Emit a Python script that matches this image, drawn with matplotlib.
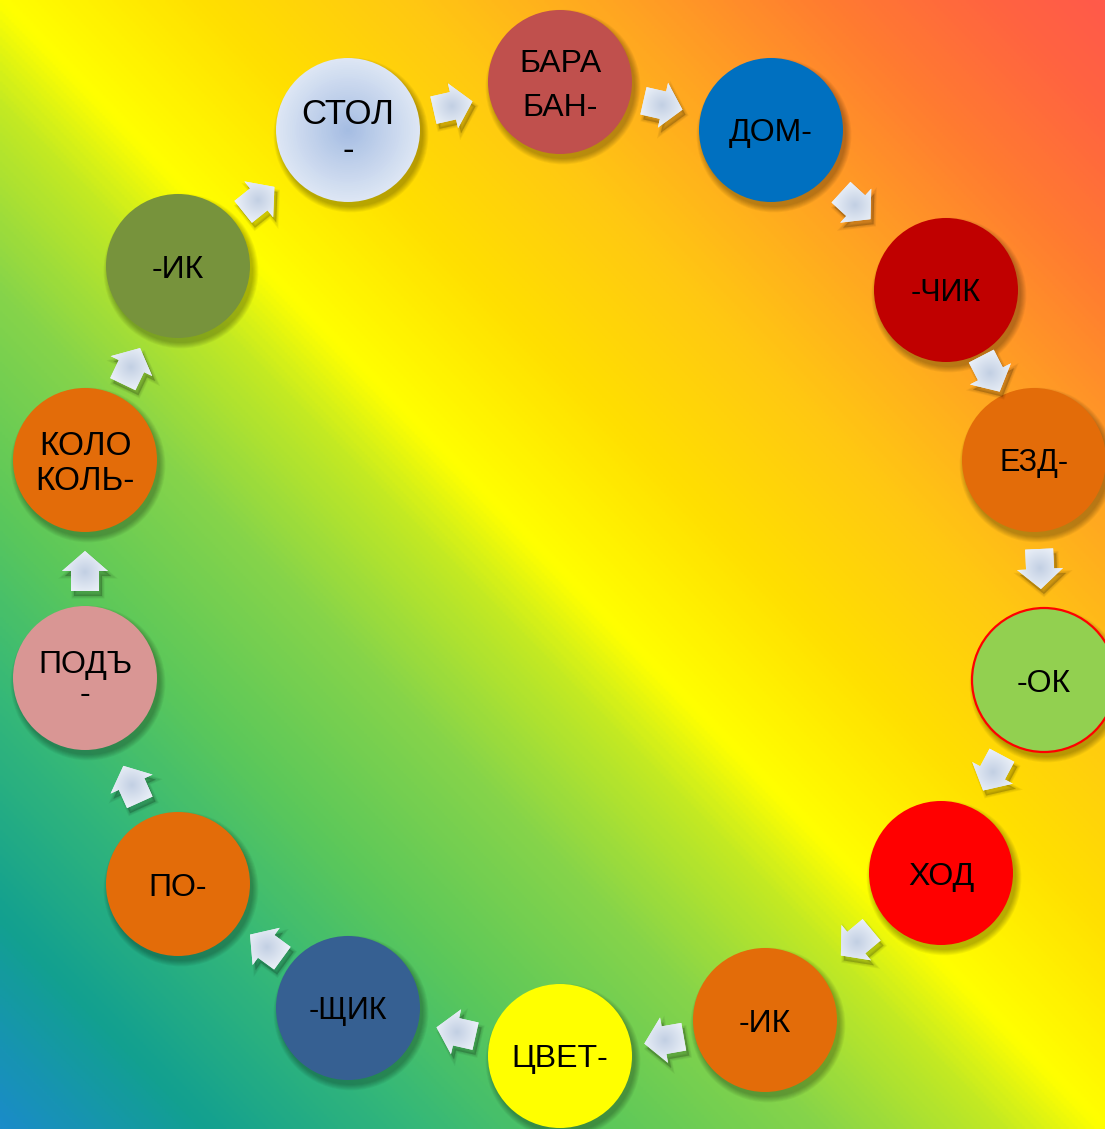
import numpy as np
import matplotlib.pyplot as plt
from matplotlib.colors import LinearSegmentedColormap, to_rgb
from matplotlib.patches import Circle, Polygon

W, H = 1105, 1129

# nodes, clockwise starting from the top one
labels = [["БАРА", "БАН-"], ["ДОМ-"], ["-ЧИК"], ["ЕЗД-"], ["-ОК"], ["ХОД"], ["-ИК"],
          ["ЦВЕТ-"], ["-ЩИК"], ["ПО-"], ["ПОДЪ", "-"], ["КОЛО", "КОЛЬ-"], ["-ИК"], ["СТОЛ", "-"]]
fills = ["#c0504d", "#0070c0", "#c00000", "#e36c09", "#92d050", "#ff0000", "#e36c09",
         "#ffff00", "#366092", "#e36c09", "#d99694", "#e36c09", "#77933c", "radial"]
edges = [None, None, None, None, "#ff0000", None, None,
         None, None, None, None, None, None, None]

# layout (pixel positions of node centres and of the arrows between them)
node_x = [560, 771, 946, 1034, 1044, 941, 765, 560, 348, 178, 85, 85, 178, 348]
node_y = [82, 130, 290, 460, 680, 873, 1020, 1056, 1008, 884, 678, 460, 266, 130]
arrow_x = [662, 855, 990, 1040, 993, 857, 665, 457, 267, 132, 85, 131, 258, 452]
arrow_y = [105, 205, 373, 568, 772, 942, 1040, 1032, 947, 785, 572, 367, 200, 106]
font_sizes = [23, 23, 22, 22, 23, 23, 23, 23, 22, 23, 23, 24, 23, 25]
line_dy = [[-22, 22], [0], [0], [0], [0], [0], [0],
           [0], [0], [0], [-16, 14], [-17, 18], [0], [-19, 17]]

# background gradient (u = x/W - y/H, from bottom-left -1 to top-right +1)
bg_stops = [(0.00, "#1a8cc8"), (0.09, "#12a090"), (0.19, "#35b878"), (0.275, "#5cc85a"),
            (0.37, "#86d44a"), (0.455, "#c4ea22"), (0.50, "#ffff00"), (0.59, "#ffe000"),
            (0.685, "#ffc812"), (0.78, "#ffa422"), (0.875, "#ff7c30"), (0.95, "#ff6440"),
            (1.00, "#ff5a4a")]
bg_cmap = LinearSegmentedColormap.from_list("bg", bg_stops)

fig = plt.figure(figsize=(W / 100, H / 100), dpi=100)
ax = fig.add_axes([0, 0, 1, 1])
ax.set_xlim(0, W)
ax.set_ylim(H, 0)
ax.axis("off")

xx, yy = np.meshgrid(np.linspace(0, 1, 400), np.linspace(0, 1, 400))
u = (xx - yy + 1) / 2
ax.imshow(u, cmap=bg_cmap, vmin=0, vmax=1, extent=(0, W, H, 0), zorder=0, aspect="auto")

r = 72
n = len(labels)

# circles
for i in range(n):
    x, y = node_x[i], node_y[i]
    for k in range(7):
        ax.add_patch(Circle((x + 3, y + 5), r + k * 0.9, color="black", alpha=0.045, lw=0, zorder=1))
    if fills[i] == "radial":
        c_in = np.array(to_rgb("#a4bce2"))
        c_out = np.array(to_rgb("#dde6f4"))
        for j in range(40):
            f = 1 - j / 40
            ax.add_patch(Circle((x, y), r * f, color=c_out * f + c_in * (1 - f), lw=0, zorder=2))
    else:
        ec = edges[i] if edges[i] else "none"
        ax.add_patch(Circle((x, y), r, facecolor=fills[i], edgecolor=ec, lw=1.6, zorder=2))
    em = font_sizes[i] * 100 / 72
    for line, dy in zip(labels[i], line_dy[i]):
        ax.text(x, y + dy + 0.36 * em, line, fontsize=font_sizes[i], family="Liberation Sans",
                ha="center", va="baseline", color="black", zorder=5)

# arrows between nodes, pointing from node i to node i+1
shape = np.array([[-19, -14], [1, -14], [1, -23], [21, 0], [1, 23], [1, 14], [-19, 14]])
gy, gx = np.mgrid[-1:1:60j, -1:1:60j]
rad = np.clip(np.sqrt(gx ** 2 + gy ** 2), 0, 1)
g_in = np.array(to_rgb("#c2cfe3"))
g_out = np.array(to_rgb("#edf2f9"))
grad = g_in[None, None, :] * (1 - rad[..., None]) + g_out[None, None, :] * rad[..., None]

for i in range(n):
    j = (i + 1) % n
    ax_x, ax_y = arrow_x[i], arrow_y[i]
    d = np.array([node_x[j] - node_x[i], node_y[j] - node_y[i]], dtype=float)
    d /= np.hypot(*d)
    p = np.array([-d[1], d[0]])
    pts = np.array([[ax_x, ax_y] + a * d + b * p for a, b in shape])
    for k in range(4):
        ax.add_patch(Polygon(pts + [3, 5], closed=True, facecolor="black", edgecolor="black",
                             lw=k * 1.2, alpha=0.05, zorder=3))
    poly = Polygon(pts, closed=True, facecolor="#e3eaf4", edgecolor="none", zorder=4)
    ax.add_patch(poly)
    im = ax.imshow(grad, extent=(ax_x - 24, ax_x + 24, ax_y + 24, ax_y - 24), zorder=4.1)
    im.set_clip_path(poly)

ax.set_xlim(0, W)
ax.set_ylim(H, 0)
fig.savefig("out.png", dpi=100)
